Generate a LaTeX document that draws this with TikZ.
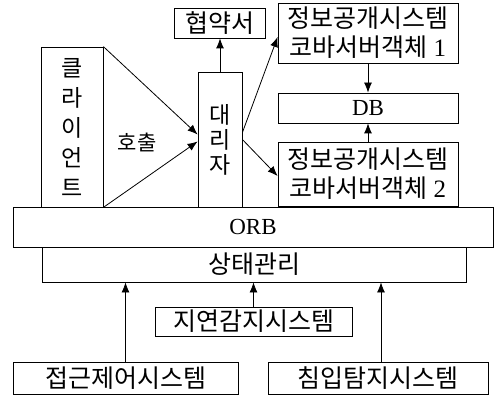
\documentclass[tikz,border=0pt]{standalone}
\usepackage{fontspec}
\setmainfont{Liberation Serif}
\newfontfamily\kr{Noto Sans CJK KR}
\usetikzlibrary{arrows.meta, positioning}
\tikzset{
    mybox/.style={
        draw,
        align=center,
        inner sep=0pt,
        anchor=center,
        font=\fontsize{25}{29}\selectfont\kr
    },
    mytall/.style={mybox, font=\fontsize{23}{30}\selectfont\kr},
    mylatin/.style={mybox, font=\fontsize{23}{29}\selectfont\rmfamily},
    myarrow/.style={-{Latex[length=10pt, width=8pt]}}
}

\begin{document}
\begin{tikzpicture}[x=1pt, y=-1pt, line width=0.8pt]
\useasboundingbox (0,0) rectangle (495,395);
\node[mybox, minimum width=91pt, minimum height=30pt]    (P)  at (219.5,23)  {협약서};
\node[mybox, minimum width=180pt, minimum height=60pt]   (O1) at (368,33)    {정보공개시스템\\코바서버객체 {\rmfamily 1}};
\node[mylatin, minimum width=180pt, minimum height=30pt] (D)  at (368,108)   {DB};
\node[mybox, minimum width=180pt, minimum height=64pt]   (O2) at (368,174)   {정보공개시스템\\코바서버객체 {\rmfamily 2}};
\node[mytall, minimum width=62pt, minimum height=160pt]  (C)  at (72,127)    {클\\라\\이\\언\\트};
\node[mytall, minimum width=44pt, minimum height=135pt, font=\fontsize{23}{25}\selectfont\kr]
                                                         (A)  at (220,139.5) {대\\리\\자};
\node[font=\fontsize{21}{24}\selectfont\kr]              (H)  at (137,142)   {호출};
\node[mylatin, minimum width=480pt, minimum height=40pt] (R)  at (253,227)   {ORB};
\node[mybox, minimum width=424pt, minimum height=35pt]   (S)  at (254,264.5) {상태관리};
\node[mybox, minimum width=197pt, minimum height=29pt]   (L)  at (253.5,321.5) {지연감지시스템};
\node[mybox, minimum width=225pt, minimum height=32pt]   (X)  at (125.5,378) {접근제어시스템};
\node[mybox, minimum width=220pt, minimum height=32pt]   (I)  at (378,378)   {침입탐지시스템};

\draw[myarrow] (C.north east) -- ([yshift=5pt]A.west);
\draw[myarrow] (C.south east) -- ([yshift=-2pt]A.west);
\draw[myarrow] (A.north) -- (A.north |- P.south);
\draw[myarrow] ([yshift=7pt]A.east) -- ([yshift=-4pt]O1.west);
\draw[myarrow] (A.east) -- ([yshift=-2pt]O2.west);
\draw[myarrow] (O1.south) -- (D.north);
\draw[myarrow] (O2.north) -- (D.south);
\draw[myarrow] (X.north) -- (X.north |- S.south);
\draw[myarrow] (L.north) -- (L.north |- S.south);
\draw[myarrow] ([xshift=3pt]I.north) -- ([xshift=3pt]I.north |- S.south);
\end{tikzpicture}
\end{document}
